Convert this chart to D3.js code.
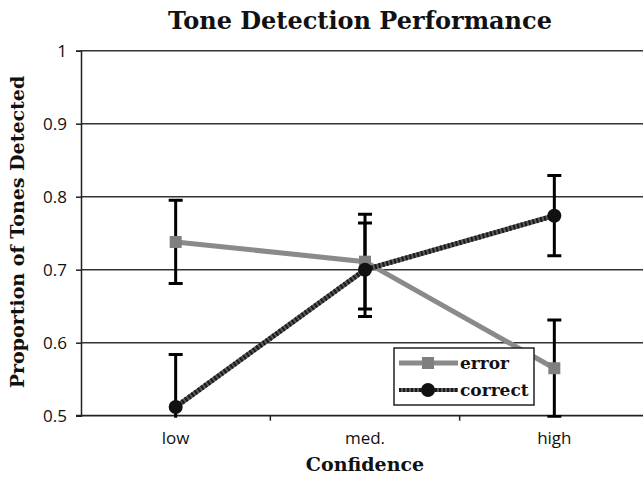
<html>
<script src="https://d3js.org/d3.v7.js"></script>
<body style="margin:0;background:#fff;">
<style>
    .tick-lab { font-family: "Open Sans", "DejaVu Sans", sans-serif; font-size: 17px; fill: #111; }
    .bold-serif { font-family: "DejaVu Serif", serif; font-weight: bold; fill: #111; }
</style>
<div id="chart"></div>
<script>
    // values
    let categories = ["low", "med.", "high"];
    let errorMean = [0.738, 0.711, 0.565];
    let errorHalf = [0.057, 0.065, 0.066];
    let correctMean = [0.512, 0.700, 0.774];
    let correctHalf = [0.072, 0.064, 0.055];
    let yTicks = [0.5, 0.6, 0.7, 0.8, 0.9, 1];

    let width = 643, height = 481;
    let plotLeft = 81, plotRight = 649, plotTop = 50.7, plotBottom = 415.7;

    let svg = d3.select("#chart").append("svg")
        .attr("width", width).attr("height", height);

    let x = d3.scaleBand().domain(categories).range([plotLeft, plotRight]);
    let y = d3.scaleLinear().domain([0.5, 1]).range([plotBottom, plotTop]);
    let cx = d => x(d) + x.bandwidth() / 2;

    svg.append("defs").append("clipPath").attr("id", "plot")
        .append("rect").attr("x", plotLeft).attr("y", plotTop - 10)
        .attr("width", plotRight - plotLeft).attr("height", plotBottom - plotTop + 12);

    // grid lines
    svg.selectAll(".grid").data(yTicks.slice(1)).join("line")
        .attr("x1", plotLeft).attr("x2", width)
        .attr("y1", d => y(d)).attr("y2", d => y(d))
        .attr("stroke", "#333").attr("stroke-width", 1.5);

    // y axis
    let yAxis = d3.axisLeft(y).tickValues(yTicks).tickSize(5).tickPadding(9)
        .tickFormat(d => d === 1 ? "1" : d3.format(".1f")(d));
    let gy = svg.append("g").attr("transform", `translate(${plotLeft},0)`).call(yAxis);
    gy.attr("font-size", null).attr("font-family", null);
    gy.select(".domain").attr("stroke", "#222").attr("stroke-width", 1.5);
    gy.selectAll(".tick line").attr("stroke", "#222").attr("stroke-width", 1.5);
    gy.selectAll(".tick text").attr("class", "tick-lab").attr("fill", null);

    // x axis, ticks between categories
    svg.append("line").attr("x1", plotLeft - 5).attr("x2", width)
        .attr("y1", plotBottom).attr("y2", plotBottom)
        .attr("stroke", "#222").attr("stroke-width", 1.8);
    svg.selectAll(".xt").data(categories.slice(1)).join("line")
        .attr("x1", d => x(d)).attr("x2", d => x(d))
        .attr("y1", plotBottom).attr("y2", plotBottom + 5)
        .attr("stroke", "#222").attr("stroke-width", 1.5);
    svg.selectAll(".xl").data(categories).join("text")
        .attr("class", "tick-lab")
        .attr("x", d => cx(d)).attr("y", plotBottom + 28)
        .attr("text-anchor", "middle")
        .text(d => d);

    let plot = svg.append("g").attr("clip-path", "url(#plot)");

    // error bars
    function bars(mean, half) {
        let g = plot.append("g").attr("stroke", "#000").attr("stroke-width", 3);
        categories.forEach((c, i) => {
            let lo = y(mean[i] - half[i]), hi = y(mean[i] + half[i]);
            g.append("line").attr("x1", cx(c)).attr("x2", cx(c)).attr("y1", lo).attr("y2", hi);
            g.append("line").attr("x1", cx(c) - 7).attr("x2", cx(c) + 7).attr("y1", lo).attr("y2", lo);
            g.append("line").attr("x1", cx(c) - 7).attr("x2", cx(c) + 7).attr("y1", hi).attr("y2", hi);
        });
    }
    bars(errorMean, errorHalf);
    bars(correctMean, correctHalf);

    let line = d3.line().x((d, i) => cx(categories[i])).y(d => y(d));

    // error series
    plot.append("path").datum(errorMean).attr("d", line)
        .attr("fill", "none").attr("stroke", "#8a8a8a").attr("stroke-width", 5);
    plot.selectAll(".sq").data(errorMean).join("rect")
        .attr("x", (d, i) => cx(categories[i]) - 6).attr("y", d => y(d) - 6)
        .attr("width", 12).attr("height", 12).attr("fill", "#7f7f7f");

    // correct series
    plot.append("path").datum(correctMean).attr("d", line)
        .attr("fill", "none").attr("stroke", "#5a5a5a").attr("stroke-width", 5);
    plot.append("path").datum(correctMean).attr("d", line)
        .attr("fill", "none").attr("stroke", "#1a1a1a").attr("stroke-width", 5)
        .attr("stroke-dasharray", "2,2");
    plot.selectAll(".dot").data(correctMean).join("circle")
        .attr("cx", (d, i) => cx(categories[i])).attr("cy", d => y(d))
        .attr("r", 7).attr("fill", "#111");

    // legend
    let lg = svg.append("g").attr("transform", "translate(394,348)");
    lg.append("rect").attr("width", 140).attr("height", 57)
        .attr("fill", "#fff").attr("stroke", "#222").attr("stroke-width", 1.5);
    lg.append("line").attr("x1", 5).attr("x2", 64).attr("y1", 15).attr("y2", 15)
        .attr("stroke", "#8a8a8a").attr("stroke-width", 5);
    lg.append("rect").attr("x", 28).attr("y", 9).attr("width", 12).attr("height", 12).attr("fill", "#7f7f7f");
    lg.append("line").attr("x1", 5).attr("x2", 64).attr("y1", 42).attr("y2", 42)
        .attr("stroke", "#5a5a5a").attr("stroke-width", 4);
    lg.append("line").attr("x1", 5).attr("x2", 64).attr("y1", 42).attr("y2", 42)
        .attr("stroke", "#1a1a1a").attr("stroke-width", 4).attr("stroke-dasharray", "2,2");
    lg.append("circle").attr("cx", 34).attr("cy", 42).attr("r", 7).attr("fill", "#111");
    lg.append("text").attr("class", "bold-serif").attr("x", 66).attr("y", 21)
        .attr("font-size", 17).text("error");
    lg.append("text").attr("class", "bold-serif").attr("x", 66).attr("y", 48)
        .attr("font-size", 17).text("correct");

    // titles
    svg.append("text").attr("class", "bold-serif")
        .attr("x", 360).attr("y", 29).attr("text-anchor", "middle")
        .attr("font-size", 24).text("Tone Detection Performance");
    svg.append("text").attr("class", "bold-serif")
        .attr("x", 365).attr("y", 471).attr("text-anchor", "middle")
        .attr("font-size", 19).text("Confidence");
    svg.append("text").attr("class", "bold-serif")
        .attr("transform", "translate(24,232) rotate(-90)")
        .attr("text-anchor", "middle")
        .attr("font-size", 19).text("Proportion of Tones Detected");
</script>
</body>
</html>
